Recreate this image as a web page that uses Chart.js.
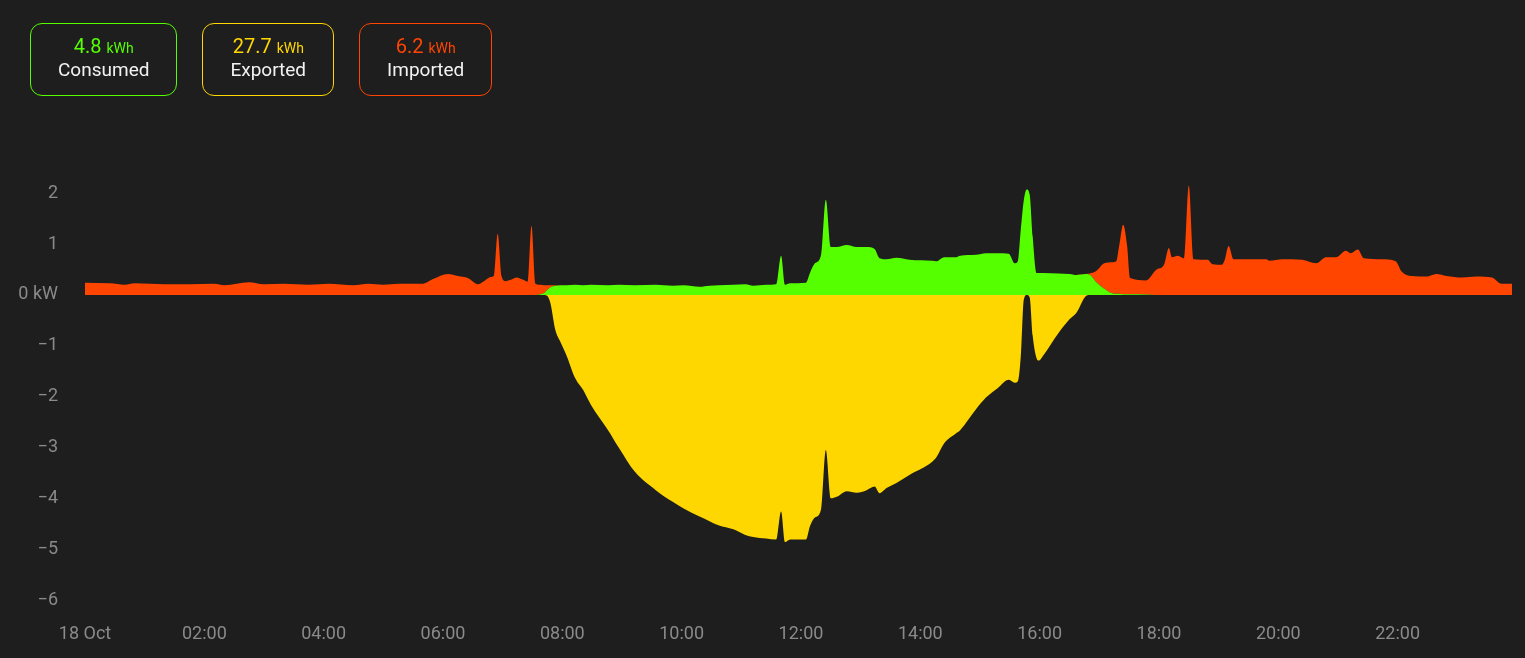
<!DOCTYPE html>
<html>
<head>
<meta charset="utf-8">
<title>Energy</title>
<script src="https://cdn.jsdelivr.net/npm/chart.js@4.4.1/dist/chart.umd.min.js"></script>
<style>
    html, body { margin: 0; padding: 0; background: #1e1e1e; overflow: hidden; }
    #wrap { position: absolute; left: 0; top: 0; width: 1525px; height: 658px; }
    .cards { position: absolute; left: 30px; top: 23px; display: flex; gap: 25px; z-index: 2; }
    .card {
        border: 1px solid; border-radius: 12px; height: 71px; box-sizing: content-box;
        padding: 0 27px; text-align: center; font-family: Roboto, sans-serif;
    }
    .card .val { padding-top: 12px; line-height: 20px; font-size: 20px; }
    .card .val span { font-size: 14px; }
    .card .lbl { line-height: 24px; font-size: 19px; color: #f2f2f2; }
</style>
</head>
<body>
<div id="wrap">
    <div class="cards" id="cards"></div>
    <canvas id="energyChart" width="1525" height="658"></canvas>
</div>
<script>
// Summary cards
const cardLabels = ['Consumed', 'Exported', 'Imported'];
const cardValues = ['4.8', '27.7', '6.2'];
const cardColors = ['#55ff00', '#ffd700', '#ff4500'];

// Power samples (kW), shared timestamps
const times = [
    '00:00','00:25','00:40','00:50','01:20','01:45','02:10','02:20','02:45','03:00',
    '03:20','03:45','04:05','04:30','04:45','05:00','05:15','05:40','05:50','06:05',
    '06:15','06:25','06:35','06:42','06:48','06:51','06:55','06:59','07:03','07:10',
    '07:14','07:20','07:25','07:29','07:33','07:38','07:42','07:45','07:48','07:53',
    '07:58','08:04','08:13','08:21','08:29','08:46','08:57','09:13','09:34','09:51',
    '10:02','10:18','10:28','10:37','10:52','11:04','11:12','11:25','11:35','11:40',
    '11:44','11:49','12:05','12:09','12:14','12:20','12:25','12:30','12:36','12:46',
    '12:56','13:06','13:14','13:19','13:26','13:36','13:49','14:12','14:16','14:24',
    '14:36','14:40','14:56','15:06','15:18','15:29','15:35','15:38','15:41','15:44',
    '15:47','15:50','15:53','15:57','15:59','16:04','16:19','16:30','16:37','16:46',
    '16:50','16:57','17:05','17:13','17:17','17:20','17:24','17:28','17:31','17:47',
    '17:57','18:05','18:10','18:13','18:19','18:25','18:30','18:35','18:49','18:54',
    '19:03','19:06','19:10','19:15','19:48','19:51','20:04','20:24','20:38','20:48',
    '20:58','21:08','21:13','21:20','21:26','21:44','21:58','22:04','22:14','22:29',
    '22:39','22:49','23:05','23:19','23:35','23:44','23:55'
];

const solarUsed = [
    0,0,0,0,0,0,0,0,0,0,
    0,0,0,0,0,0,0,0,0,0,
    0,0,0,0,0,0,0,0,0,0,
    0,0,0,0,0,0.01,0.04,0.10,0.15,0.18,
    0.19,0.19,0.20,0.19,0.20,0.19,0.20,0.19,0.20,0.18,
    0.19,0.16,0.18,0.19,0.20,0.21,0.18,0.20,0.21,0.77,
    0.20,0.23,0.24,0.43,0.62,0.77,1.87,0.94,0.94,0.98,
    0.94,0.94,0.90,0.72,0.70,0.73,0.69,0.67,0.66,0.74,
    0.74,0.77,0.79,0.82,0.82,0.81,0.62,0.66,1.28,1.85,
    2.07,1.97,1.15,0.43,0.43,0.43,0.42,0.41,0.39,0.41,
    0.40,0.25,0.12,0.03,0.02,0.02,0.01,0.01,0.01,0.005,
    0,0,0,0,0,0,0,0,0,0,
    0,0,0,0,0,0,0,0,0,0,
    0,0,0,0,0,0,0,0,0,0,
    0,0,0,0,0,0,0
];

const gridImport = [
    0.24,0.23,0.20,0.23,0.21,0.21,0.22,0.19,0.25,0.21,
    0.22,0.20,0.22,0.19,0.22,0.20,0.22,0.22,0.31,0.41,
    0.37,0.33,0.21,0.28,0.35,0.37,1.20,0.36,0.27,0.31,
    0.34,0.30,0.26,1.36,0.22,0.19,0.15,0.09,0.04,0.01,
    0,0,0,0,0,0,0,0,0,0,
    0,0,0,0,0,0,0,0,0,0,
    0,0,0,0,0,0,0,0,0,0,
    0,0,0,0,0,0,0,0,0,0,
    0,0,0,0,0,0,0,0,0,0,
    0,0,0,0,0,0,0,0,0,0,
    0.02,0.22,0.50,0.61,0.64,0.95,1.37,0.95,0.32,0.28,
    0.49,0.59,0.92,0.74,0.77,0.72,2.15,0.70,0.69,0.60,
    0.59,0.68,0.96,0.70,0.70,0.67,0.70,0.69,0.62,0.74,
    0.74,0.87,0.82,0.89,0.72,0.70,0.66,0.46,0.37,0.36,
    0.41,0.37,0.34,0.36,0.34,0.22,0.22
];

const gridExport = [
    0,0,0,0,0,0,0,0,0,0,
    0,0,0,0,0,0,0,0,0,0,
    0,0,0,0,0,0,0,0,0,0,
    0,0,0,0,0,0,0,-0.02,-0.16,-0.69,
    -0.92,-1.18,-1.64,-1.87,-2.17,-2.66,-3.01,-3.48,-3.84,-4.07,
    -4.20,-4.36,-4.45,-4.53,-4.61,-4.72,-4.76,-4.79,-4.81,-4.26,
    -4.86,-4.81,-4.81,-4.55,-4.38,-4.23,-3.05,-4.00,-3.97,-3.86,
    -3.89,-3.84,-3.77,-3.90,-3.80,-3.70,-3.54,-3.28,-3.20,-2.92,
    -2.72,-2.66,-2.25,-2.02,-1.83,-1.67,-1.73,-1.70,-1.21,-0.10,
    0,-0.05,-0.80,-1.25,-1.29,-1.18,-0.75,-0.48,-0.35,-0.03,
    0,0,0,0,0,0,0,0,0,0,
    0,0,0,0,0,0,0,0,0,0,
    0,0,0,0,0,0,0,0,0,0,
    0,0,0,0,0,0,0,0,0,0,
    0,0,0,0,0,0,0
];

// Axis ticks
const xTickHours = [0, 2, 4, 6, 8, 10, 12, 14, 16, 18, 20, 22];
const xTickLabels = ['18 Oct','02:00','04:00','06:00','08:00','10:00','12:00','14:00','16:00','18:00','20:00','22:00'];
const yTickValues = [-6, -5, -4, -3, -2, -1, 0, 1, 2];

// Cards
const cardsEl = document.getElementById('cards');
cardLabels.forEach((label, i) => {
    const card = document.createElement('div');
    card.className = 'card';
    card.style.borderColor = cardColors[i];
    card.innerHTML = `<div class="val" style="color:${cardColors[i]}">${cardValues[i]} <span>kWh</span></div>` +
                     `<div class="lbl">${label}</div>`;
    cardsEl.appendChild(card);
});

// Chart
const toHours = t => { const [h, m] = t.split(':').map(Number); return h + m / 60; };
const hours = times.map(toHours);
const points = arr => arr.map((v, i) => ({ x: hours[i], y: v }));

Chart.defaults.font.family = "Roboto, sans-serif";
Chart.defaults.font.size = 18;
Chart.defaults.color = '#8a8a8a';

const areaStyle = {
    borderWidth: 0,
    pointRadius: 0,
    cubicInterpolationMode: 'monotone'
};

new Chart(document.getElementById('energyChart').getContext('2d'), {
    type: 'line',
    data: {
        datasets: [
            { ...areaStyle, label: 'Consumed', data: points(solarUsed), stack: 'use',
              fill: 'origin', backgroundColor: '#55ff00', borderColor: '#55ff00' },
            { ...areaStyle, label: 'Imported', data: points(gridImport), stack: 'use',
              fill: '-1', backgroundColor: '#ff4500', borderColor: '#ff4500' },
            { ...areaStyle, label: 'Exported', data: points(gridExport), stack: 'export',
              fill: 'origin', backgroundColor: '#ffd700', borderColor: '#ffd700' }
        ]
    },
    options: {
        responsive: false,
        animation: false,
        layout: { padding: { top: 183, right: 13, left: 0, bottom: 0 } },
        plugins: { legend: { display: false }, tooltip: { enabled: false } },
        scales: {
            x: {
                type: 'linear',
                min: 0,
                max: hours[hours.length - 1],
                grid: { display: false, drawTicks: false },
                border: { display: false },
                ticks: {
                    padding: 24,
                    maxRotation: 0,
                    autoSkip: false,
                    callback: v => xTickLabels[xTickHours.indexOf(v)]
                },
                afterBuildTicks: s => { s.ticks = xTickHours.map(v => ({ value: v })); },
                afterFit: s => { s.height = 58; }
            },
            y: {
                stacked: true,
                min: -6,
                max: 2.2,
                grid: { display: false, drawTicks: false },
                border: { display: false },
                ticks: {
                    padding: 27,
                    callback: v => v === 0 ? '0 kW' : (v < 0 ? '\u2212' + Math.abs(v) : String(v))
                },
                afterBuildTicks: s => { s.ticks = yTickValues.map(v => ({ value: v })); },
                afterFit: s => { s.width = 85; }
            }
        }
    }
});
</script>
</body>
</html>
